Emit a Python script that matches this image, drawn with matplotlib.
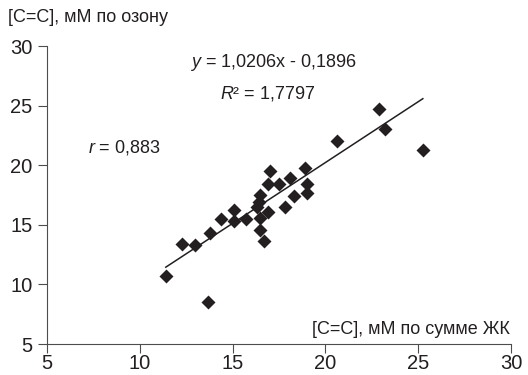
import matplotlib.pyplot as plt

plt.rcParams["font.family"] = ["Liberation Sans", "DejaVu Sans"]
plt.rcParams["mathtext.fontset"] = "custom"
plt.rcParams["mathtext.rm"] = "Liberation Sans"
plt.rcParams["mathtext.it"] = "Liberation Sans:italic"

# [C=C] by sum of fatty acids (x) vs. by ozone (y)
x_sum = [11.4, 13.7, 12.3, 13.0, 13.8, 14.4, 15.1, 15.1, 15.7,
         16.5, 16.4, 16.3, 16.5, 16.5, 16.7, 16.9, 17.0, 16.9,
         17.5, 17.8, 18.1, 18.3, 18.9, 19.0, 19.0,
         20.6, 22.9, 23.2, 25.25]
y_ozone = [10.7, 8.5, 13.4, 13.3, 14.3, 15.5, 16.2, 15.3, 15.5,
           17.5, 16.9, 16.5, 15.6, 14.6, 13.6, 16.1, 19.5, 18.4,
           18.4, 16.5, 18.9, 17.4, 19.8, 18.4, 17.7,
           22.0, 24.7, 23.0, 21.3]
slope = 1.0206
intercept = -0.1896
x_ticks = [5, 10, 15, 20, 25, 30]
y_ticks = [5, 10, 15, 20, 25, 30]

ink = "#231f20"
axis_col = "#4d4d4d"

fig = plt.figure(figsize=(5.28, 3.75), dpi=100)
ax = fig.add_axes([47 / 528, 1 - 344 / 375, 464 / 528, 298 / 375])

# trend line over the data range
x0, x1 = min(x_sum), max(x_sum)
ax.plot([x0, x1], [slope * x0 + intercept, slope * x1 + intercept],
        color=ink, lw=1.1, zorder=2)
ax.plot(x_sum, y_ozone, ls="none", marker="D", ms=7, color=ink,
        mec="none", zorder=3)

ax.set_xlim(5, 30)
ax.set_ylim(5, 30)
ax.set_xticks(x_ticks)
ax.set_yticks(y_ticks)
ax.tick_params(direction="out", length=6.5, width=0.8, color=axis_col,
               labelsize=14.5, labelcolor=ink)
ax.tick_params(axis="x", pad=1)
ax.tick_params(axis="y", pad=4)

for side in ["top", "right"]:
    ax.spines[side].set_visible(False)
for side in ["left", "bottom"]:
    ax.spines[side].set_color(axis_col)
    ax.spines[side].set_linewidth(0.8)

ax.text(17.2, 28.6, r"$\it{y}$ = 1,0206x - 0,1896", ha="center", va="center",
        fontsize=13, color=ink)
ax.text(16.9, 26.0, r"$\it{R}$² = 1,7797", ha="center", va="center",
        fontsize=13, color=ink)
ax.text(7.2, 21.5, r"$\it{r}$ = 0,883", ha="left", va="center",
        fontsize=13, color=ink)

fig.text(8 / 528, 1 - 18 / 375, "[C=C], мМ по озону", ha="left",
         va="center", fontsize=13, color=ink)
fig.text(510 / 528, 1 - 329 / 375, "[C=C], мМ по сумме ЖК", ha="right",
         va="center", fontsize=13, color=ink)

fig.savefig("out.png", dpi=100)
